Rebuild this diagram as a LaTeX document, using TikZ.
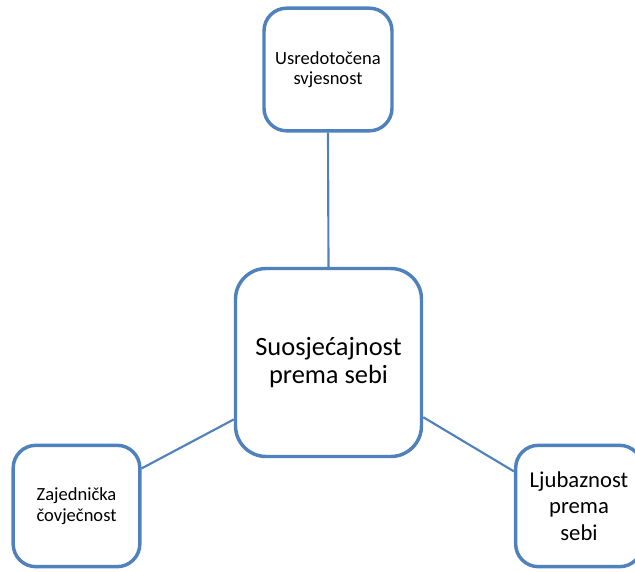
\documentclass[tikz,border=0pt]{standalone}
\usepackage{fontspec}
\setmainfont{Carlito}

\definecolor{boxblue}{RGB}{79,129,189}
\tikzset{every picture/.style={line width=0.75pt}}
\tikzset{
  ovalbox/.style={draw=boxblue, line width=2.6pt, fill=white, rounded corners=17pt,
    rectangle, align=center, inner sep=0.75pt, text=black},
  spoke/.style={draw=boxblue, line width=1.6pt}
}

\begin{document}
\begin{tikzpicture}[x=0.75pt,y=0.75pt,yscale=-1,xscale=1]
		%set diagram left start at 0, and has height of 571
		\useasboundingbox (0,0) rectangle (635,571);

		% Centre box
		\node (centre) [ovalbox, minimum width=139.5pt, minimum height=141pt, rounded corners=23pt,
		  font=\fontsize{19.8}{21}\selectfont] at (328.5,362.5) {Suosjećajnost\\prema sebi};
		% Top box
		\node (svjesnost) [ovalbox, minimum width=96pt, minimum height=92pt,
		  font=\fontsize{13.9}{15.5}\selectfont] at (328,69.5) {Usredotočena\\svjesnost};
		% Left box
		\node (covjecnost) [ovalbox, minimum width=95pt, minimum height=91pt,
		  font=\fontsize{13.9}{15.5}\selectfont] at (76.5,506) {Zajednička\\čovječnost};
		% Right box
		\node (ljubaznost) [ovalbox, minimum width=95pt, minimum height=91pt,
		  font=\fontsize{17}{19.9}\selectfont] at (579,506) {Ljubaznost\\prema\\sebi};

		% Spokes
		\draw [spoke] (svjesnost.south) -- (centre.north) ;
		\draw [spoke] (centre.211) -- (covjecnost.30) ;
		\draw [spoke] (centre.330) -- (ljubaznost.152) ;
	\end{tikzpicture}
\end{document}
